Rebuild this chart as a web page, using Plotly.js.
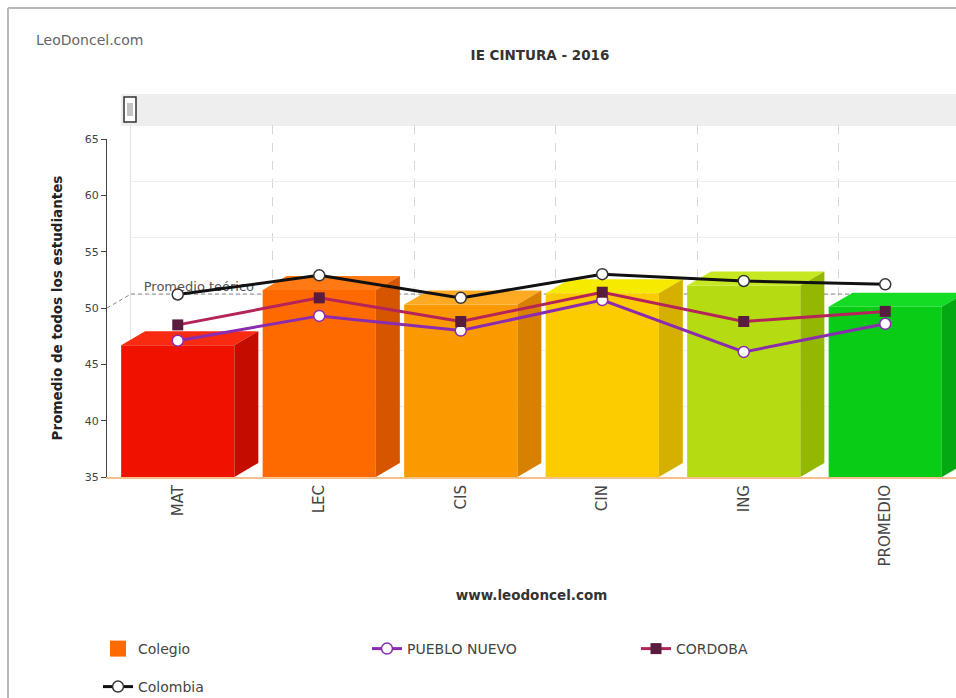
<!DOCTYPE html>
<html>
<head>
<meta charset="utf-8">
<script src="https://cdn.plot.ly/plotly-3.0.1.min.js"></script>
<style>html,body{margin:0;padding:0;background:#fff;}#chart{width:956px;height:698px;}</style>
</head>
<body>
<div id="chart"></div>
<script>
// ---- data ----
const categories = ['MAT', 'LEC', 'CIS', 'CIN', 'ING', 'PROMEDIO'];
const colegio = [46.7, 51.6, 50.3, 51.3, 52.0, 50.1];
const puebloNuevo = [47.1, 49.3, 48.0, 50.7, 46.1, 48.6];
const cordoba = [48.5, 50.9, 48.8, 51.4, 48.8, 49.7];
const colombia = [51.2, 52.9, 50.9, 53.0, 52.4, 52.1];
const promedioTeorico = 50;
const yTickVals = [35, 40, 45, 50, 55, 60, 65];

// ---- styles ----
const frontColors = ['#f01200', '#ff6a00', '#fb9a00', '#fccc00', '#b4dc10', '#08cc16'];
const topColors   = ['#f82a10', '#ff7a14', '#ffaa22', '#f6ea00', '#c6e822', '#14dc24'];
const sideColors  = ['#c40c00', '#d65600', '#d88000', '#d6b000', '#94b800', '#04a812'];

const W = 956, H = 698;
const px = v => v / W;
const py = v => 1 - v / H;

// geometry of plot (pixels)
const frontL = 107, frontR = 956, frontTop = 139, frontBot = 477;
const depthX = 24, depthY = 14;
const unitX = (frontR - frontL) / 6;
const unitY = (frontBot - frontTop) / 30;
const dx = depthX / unitX, dy = depthY / unitY;
const halfW = 0.4;
const xs = categories.map((c, i) => i);
const yMin = 35, yMax = 65;

const FONT = '"DejaVu Sans", Verdana, sans-serif';
const traces = [];

// back plane: promedio teórico guide line + label
traces.push({
  type: 'scatter', mode: 'lines', xaxis: 'x', yaxis: 'y',
  x: [-0.5, 5.5], y: [promedioTeorico, promedioTeorico],
  line: {color: '#888', width: 1, dash: '4px,3px'},
  hoverinfo: 'skip', showlegend: false
});
traces.push({
  type: 'scatter', mode: 'text', xaxis: 'x', yaxis: 'y',
  x: [-0.41], y: [promedioTeorico], text: ['Promedio teórico'],
  textposition: 'top right', textfont: {family: FONT, size: 13, color: '#555'},
  hoverinfo: 'skip', showlegend: false, cliponaxis: false
});

// front: diagonal part of the guide
traces.push({
  type: 'scatter', mode: 'lines', xaxis: 'x2', yaxis: 'y2',
  x: [-0.5, -0.5 + dx], y: [promedioTeorico, promedioTeorico + dy],
  line: {color: '#888', width: 1, dash: '4px,3px'},
  hoverinfo: 'skip', showlegend: false, cliponaxis: false
});

// front faces of the bars
traces.push({
  type: 'bar', xaxis: 'x2', yaxis: 'y2', name: 'Colegio',
  x: xs, y: colegio, width: 0.8,
  marker: {color: frontColors, line: {width: 0}},
  showlegend: false, hoverinfo: 'y'
});

// top and side faces (3D look), derived from the values
colegio.forEach((v, i) => {
  const l = i - halfW, r = i + halfW;
  traces.push({
    type: 'scatter', mode: 'lines', xaxis: 'x2', yaxis: 'y2',
    x: [l, r, r + dx, l + dx, l], y: [v, v, v + dy, v + dy, v],
    fill: 'toself', fillcolor: topColors[i], line: {width: 0, color: topColors[i]},
    hoverinfo: 'skip', showlegend: false
  });
  traces.push({
    type: 'scatter', mode: 'lines', xaxis: 'x2', yaxis: 'y2',
    x: [r, r + dx, r + dx, r, r], y: [yMin, yMin + dy, v + dy, v, yMin],
    fill: 'toself', fillcolor: sideColors[i], line: {width: 0, color: sideColors[i]},
    hoverinfo: 'skip', showlegend: false, cliponaxis: false
  });
});

// legend entry for the bars
traces.push({
  type: 'scatter', mode: 'markers', xaxis: 'x2', yaxis: 'y2', name: 'Colegio',
  x: [null], y: [null], marker: {symbol: 'square', size: 22, color: '#ff6a00'},
  legend: 'legend'
});

// lines
traces.push({
  type: 'scatter', mode: 'lines+markers', xaxis: 'x2', yaxis: 'y2', name: 'PUEBLO NUEVO',
  x: xs, y: puebloNuevo,
  line: {color: '#8a2bb0', width: 3},
  marker: {symbol: 'circle', size: 11, color: '#fff', line: {color: '#8a2bb0', width: 1.5}},
  legend: 'legend'
});
traces.push({
  type: 'scatter', mode: 'lines+markers', xaxis: 'x2', yaxis: 'y2', name: 'CORDOBA',
  x: xs, y: cordoba,
  line: {color: '#b4245a', width: 3},
  marker: {symbol: 'square', size: 11, color: '#5a1c3e', line: {width: 0}},
  legend: 'legend'
});
traces.push({
  type: 'scatter', mode: 'lines+markers', xaxis: 'x2', yaxis: 'y2', name: 'Colombia',
  x: xs, y: colombia,
  line: {color: '#111', width: 3},
  marker: {symbol: 'circle', size: 11, color: '#fff', line: {color: '#333', width: 1.5}},
  legend: 'legend2'
});

const boundaries = categories.map((c, i) => i - 0.5);

const layout = {
  width: W, height: H,
  margin: {l: 0, r: 0, t: 0, b: 0, autoexpand: false},
  paper_bgcolor: '#fff', plot_bgcolor: 'rgba(0,0,0,0)',
  font: {family: FONT, color: '#444', size: 12},
  title: {
    text: '<b>IE CINTURA - 2016</b>', font: {family: FONT, size: 13.5, color: '#333'},
    x: px(540), xref: 'paper', xanchor: 'center', y: py(55), yref: 'paper', yanchor: 'middle'
  },
  // back plane axes (grid only)
  xaxis: {
    domain: [px(frontL + depthX), 1], range: [-0.5, 5.5 - dx],
    tickvals: boundaries, showticklabels: false, ticks: '',
    showgrid: true, gridcolor: '#d6d6d6', griddash: 'dash', gridwidth: 1,
    zeroline: false, showline: false, fixedrange: true
  },
  yaxis: {
    domain: [py(frontBot - depthY), py(frontTop - depthY)], range: [yMin, yMax],
    tickvals: yTickVals, showticklabels: false, ticks: '',
    showgrid: true, gridcolor: '#eeeeee', gridwidth: 1,
    zeroline: false, showline: true, linecolor: '#e2e2e2', linewidth: 1, fixedrange: true
  },
  // front axes
  xaxis2: {
    domain: [px(frontL), 1], range: [-0.5, 5.5], anchor: 'y2',
    tickvals: xs, ticktext: categories, tickangle: -90,
    tickfont: {family: FONT, size: 15, color: '#444'}, ticklabelstandoff: 0,
    ticks: '', showgrid: false, zeroline: false,
    showline: true, linecolor: '#f6c08c', linewidth: 2,
    title: {text: '<b>www.leodoncel.com</b>', font: {family: FONT, size: 13.5, color: '#333'}, standoff: 25},
    fixedrange: true
  },
  yaxis2: {
    domain: [py(frontBot), py(frontTop)], range: [yMin, yMax], anchor: 'x2',
    tickvals: yTickVals, ticks: 'outside', ticklen: 5, tickcolor: '#444',
    tickfont: {family: FONT, size: 11, color: '#444'},
    showgrid: false, zeroline: false,
    showline: true, linecolor: '#444', linewidth: 1,
    title: {text: '<b>Promedio de todos los estudiantes</b>', font: {family: FONT, size: 13.5, color: '#222'}, standoff: 19},
    fixedrange: true
  },
  legend: {
    orientation: 'h', x: px(98), xanchor: 'left', y: py(633), yanchor: 'top',
    entrywidth: 224, bgcolor: 'rgba(0,0,0,0)', font: {family: FONT, size: 14, color: '#444'}
  },
  legend2: {
    orientation: 'h', x: px(98), xanchor: 'left', y: py(671), yanchor: 'top',
    bgcolor: 'rgba(0,0,0,0)', font: {family: FONT, size: 14, color: '#444'}
  },
  annotations: [
    {text: 'LeoDoncel.com', xref: 'paper', yref: 'paper', x: px(34), y: py(40),
     xanchor: 'left', yanchor: 'middle', showarrow: false, font: {family: FONT, size: 14, color: '#666'}}
  ],
  shapes: [
    // outer frame
    {type: 'line', xref: 'paper', yref: 'paper', x0: px(8), x1: 1, y0: py(8), y1: py(8), line: {color: '#b8b8b8', width: 2}},
    {type: 'line', xref: 'paper', yref: 'paper', x0: px(8), x1: px(8), y0: py(8), y1: 0, line: {color: '#b8b8b8', width: 2}},
    // scrollbar
    {type: 'rect', xref: 'paper', yref: 'paper', x0: px(121), x1: 1, y0: py(126), y1: py(94), fillcolor: '#eeeeee', line: {width: 0}, layer: 'below'},
    {type: 'rect', xref: 'paper', yref: 'paper', x0: px(124), x1: px(136), y0: py(122), y1: py(97), fillcolor: '#fff', line: {color: '#333', width: 1.5}},
    {type: 'line', xref: 'paper', yref: 'paper', x0: px(128), x1: px(128), y0: py(116), y1: py(103), line: {color: '#888', width: 1}},
    {type: 'line', xref: 'paper', yref: 'paper', x0: px(130), x1: px(130), y0: py(116), y1: py(103), line: {color: '#888', width: 1}},
    {type: 'line', xref: 'paper', yref: 'paper', x0: px(132), x1: px(132), y0: py(116), y1: py(103), line: {color: '#888', width: 1}}
  ]
};

Plotly.newPlot('chart', traces, layout, {displayModeBar: false, staticPlot: true});
</script>
</body>
</html>
